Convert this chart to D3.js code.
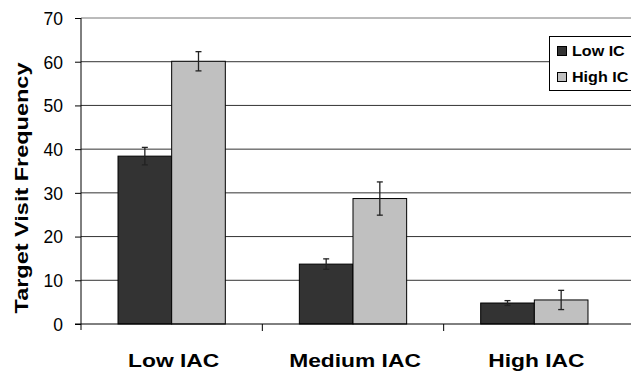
<!DOCTYPE html>
<html>
<head>
<meta charset="utf-8">
<script src="https://cdn.jsdelivr.net/npm/d3@7"></script>
<style>
  body { margin: 0; background: #fff; }
  svg { display: block; font-family: "Liberation Sans", Arial, sans-serif; }
</style>
</head>
<body>
<svg width="631" height="373"></svg>
<script>
var categories = ["Low IAC", "Medium IAC", "High IAC"];
var seriesNames = ["Low IC", "High IC"];
var lowIC = [38.4, 13.7, 4.8];
var lowICErr = [2.0, 1.2, 0.55];
var highIC = [60.1, 28.7, 5.5];
var highICErr = [2.2, 3.8, 2.2];
var yTicks = [0, 10, 20, 30, 40, 50, 60, 70];
var colors = ["#333333", "#c0c0c0"];

var svg = d3.select("svg");
var mLeft = 81, mRight = 625, mTop = 18, mBottom = 324;

var x = d3.scaleBand().domain(categories).range([mLeft, mRight]).paddingInner(0).paddingOuter(0);
var inner = d3.scaleBand().domain(seriesNames).range([0, x.bandwidth()]).paddingInner(0).paddingOuter(0.69);
var y = d3.scaleLinear().domain([0, 70]).range([mBottom, mTop]);

// gridlines
svg.append("g").selectAll("line")
    .data(yTicks.slice(1))
    .enter().append("line")
    .attr("x1", mLeft).attr("x2", 631)
    .attr("y1", function (d) { return y(d); })
    .attr("y2", function (d) { return y(d); })
    .style("stroke", function (d) { return d === 70 ? "#777" : "#333"; })
    .style("stroke-width", "1px");

// y axis
var yAxis = svg.append("g")
    .attr("transform", "translate(" + mLeft + ",0)")
    .call(d3.axisLeft(y).tickValues(yTicks).tickSize(6).tickPadding(12));
yAxis.select(".domain").attr("stroke", "#000").attr("d", "M0," + mTop + "V" + (mBottom + 6));
yAxis.selectAll(".tick line").attr("stroke", "#000");
yAxis.selectAll("text").style("font-size", "17.5px").attr("fill", "#000").attr("dy", "0.36em");

var flat = [];
categories.forEach(function (c, i) {
    flat.push({ cat: c, s: seriesNames[0], v: lowIC[i], e: lowICErr[i], col: colors[0] });
    flat.push({ cat: c, s: seriesNames[1], v: highIC[i], e: highICErr[i], col: colors[1] });
});

function cx(d) { return x(d.cat) + inner(d.s) + inner.bandwidth() / 2; }

svg.append("g").selectAll("rect")
    .data(flat)
    .enter().append("rect")
    .attr("x", function (d) { return x(d.cat) + inner(d.s); })
    .attr("y", function (d) { return y(d.v); })
    .attr("width", inner.bandwidth())
    .attr("height", function (d) { return y(0) - y(d.v); })
    .style("fill", function (d) { return d.col; })
    .style("stroke", "#000").style("stroke-width", "1px");

// error bars
var eb = svg.append("g").selectAll("g")
    .data(flat)
    .enter().append("g")
    .style("stroke", "#222").style("stroke-width", "1.3px");
eb.append("line")
    .attr("x1", cx).attr("x2", cx)
    .attr("y1", function (d) { return y(d.v + d.e); })
    .attr("y2", function (d) { return y(d.v - d.e); });
[1, -1].forEach(function (sgn) {
    eb.append("line")
        .attr("x1", function (d) { return cx(d) - 3; })
        .attr("x2", function (d) { return cx(d) + 3; })
        .attr("y1", function (d) { return y(d.v + sgn * d.e); })
        .attr("y2", function (d) { return y(d.v + sgn * d.e); });
});

// baseline + category ticks
svg.append("line")
    .attr("x1", mLeft - 6).attr("x2", 631)
    .attr("y1", mBottom).attr("y2", mBottom)
    .style("stroke", "#000");
svg.append("g").selectAll("line")
    .data(categories.slice(1))
    .enter().append("line")
    .attr("x1", function (d) { return x(d); })
    .attr("x2", function (d) { return x(d); })
    .attr("y1", mBottom).attr("y2", mBottom + 7)
    .style("stroke", "#000");

svg.append("g").selectAll("text")
    .data(categories)
    .enter().append("text")
    .attr("transform", function (d) {
        return "translate(" + (x(d) + x.bandwidth() / 2 + 2) + ",367) scale(1.22,1)";
    })
    .attr("text-anchor", "middle")
    .style("font-size", "18.7px").style("font-weight", "bold")
    .text(function (d) { return d; });

svg.append("text")
    .attr("transform", "translate(28,188) rotate(-90) scale(1.27,1)")
    .attr("text-anchor", "middle")
    .style("font-size", "18.5px").style("font-weight", "bold")
    .text("Target Visit Frequency");

// legend
var lg = svg.append("g").attr("transform", "translate(549,36)");
lg.append("rect").attr("x", 0.5).attr("y", 0.5).attr("width", 100).attr("height", 54)
    .style("fill", "#fff").style("stroke", "#000");
seriesNames.forEach(function (s, i) {
    lg.append("rect").attr("x", 8.5).attr("y", 10.5 + i * 26).attr("width", 9).attr("height", 9)
        .style("fill", colors[i]).style("stroke", "#000");
    lg.append("text").attr("transform", "translate(23," + (19.5 + i * 26) + ") scale(1.15,1)")
        .style("font-size", "14px").style("font-weight", "bold")
        .text(s);
});
</script>
</body>
</html>
